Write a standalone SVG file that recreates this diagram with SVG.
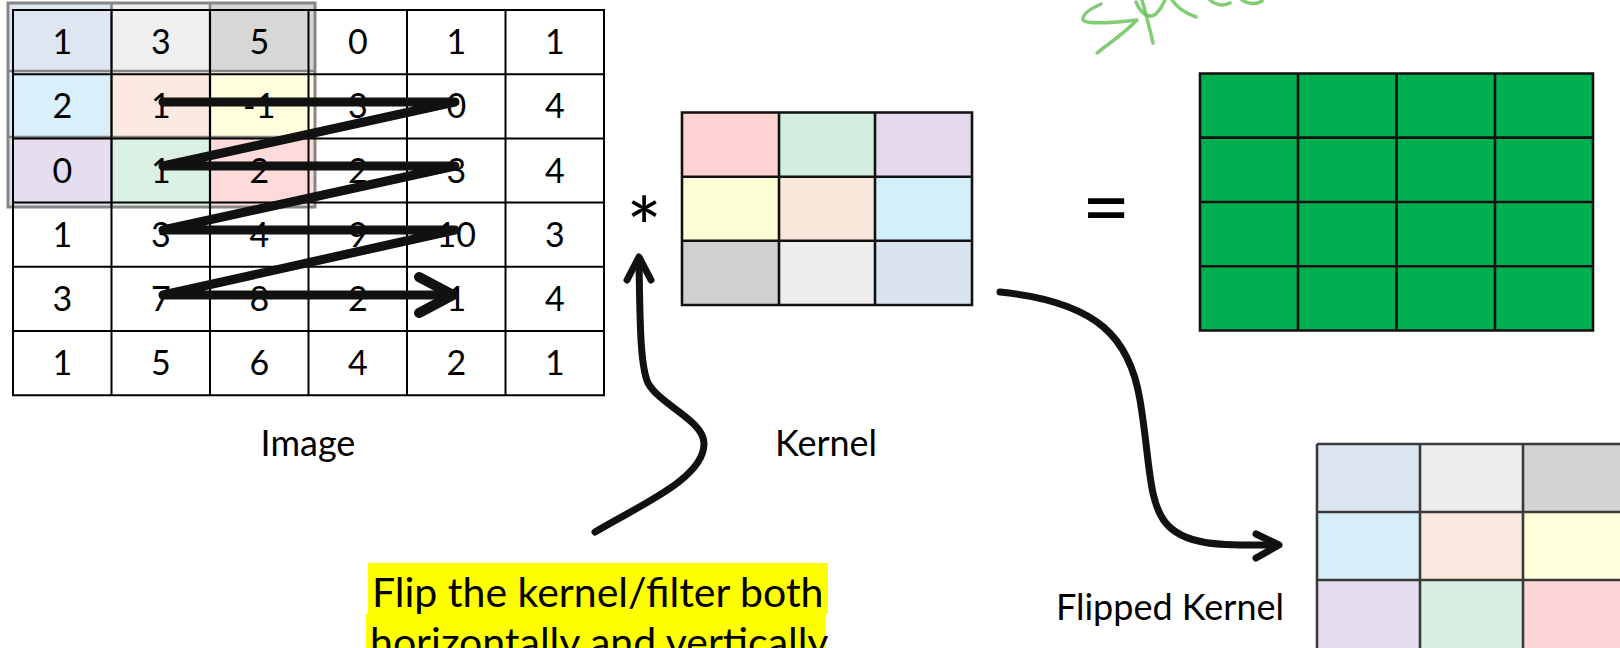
<svg xmlns="http://www.w3.org/2000/svg" width="1620" height="648" viewBox="0 0 1620 648">
  <style>
    .t { font-family: Lato, "Open Sans", "Liberation Sans", sans-serif; fill: #000; }
    .num { font-size: 34px; text-anchor: middle; }
    .lbl { font-size: 36px; text-anchor: middle; }
    .grid { fill: none; stroke: #000; stroke-width: 2; }
    .kgrid { fill: none; stroke: #111; stroke-width: 2.6; }
    .ink { fill: none; stroke: #111; stroke-linecap: round; stroke-linejoin: round; }
    .scrib { fill: none; stroke: #6cc35c; stroke-width: 3.5; stroke-linecap: round; stroke-linejoin: round; opacity: 0.85; }
  </style>

  <rect width="1620" height="648" fill="#fff"/>

  <!-- handwritten green note, cut by the top edge -->
  <g id="note">
    <path class="scrib" d="M1101 4 C1092 8 1082 14 1083 20 C1086 25 1120 22 1137 20 C1125 33 1108 44 1097 53"/>
    <path class="scrib" d="M1142 0 C1146 14 1150 30 1153 43"/>
    <path class="scrib" d="M1136 2 C1140 12 1148 20 1156 14 C1162 8 1164 2 1165 0"/>
    <path class="scrib" d="M1172 0 C1176 6 1182 12 1196 17"/>
    <path class="scrib" d="M1210 0 C1214 4 1222 7 1230 3"/>
    <path class="scrib" d="M1242 0 C1248 4 1256 5 1262 1"/>
  </g>

  <!-- 6x6 input image with the 3x3 window in the corner -->
  <g id="image">
    <rect x="13" y="10" width="591" height="385.2" fill="#fff"/>
    <g id="window" opacity="0.9">
      <rect x="8" y="3" width="103.5" height="68" fill="#dbe5f0"/>
      <rect x="111.5" y="3" width="98.5" height="68" fill="#eeeeee"/>
      <rect x="210" y="3" width="105" height="68" fill="#d3d3d3"/>
      <rect x="8" y="71" width="103.5" height="66" fill="#d5eefa"/>
      <rect x="111.5" y="71" width="98.5" height="66" fill="#fce8de"/>
      <rect x="210" y="71" width="105" height="66" fill="#ffffdb"/>
      <rect x="8" y="137" width="103.5" height="70" fill="#e4dbee"/>
      <rect x="111.5" y="137" width="98.5" height="70" fill="#d6efe1"/>
      <rect x="210" y="137" width="105" height="70" fill="#ffd6d7"/>
      <path d="M8 71 H315 M8 137 H315 M111.5 3 V207 M210 3 V207" fill="none" stroke="#7a7a7a" stroke-width="2.5"/>
      <rect x="8" y="3" width="307" height="204" fill="none" stroke="#7a7a7a" stroke-width="3"/>
    </g>
    <path class="grid" d="M13 10 H604 V395.2 H13 Z M111.5 10 V395.2 M210 10 V395.2 M308.5 10 V395.2 M407 10 V395.2 M505.5 10 V395.2 M13 74.2 H604 M13 138.4 H604 M13 202.6 H604 M13 266.8 H604 M13 331 H604"/>
    <g class="t num">
      <text x="62.3" y="54.2">1</text><text x="160.8" y="54.2">3</text><text x="259.3" y="54.2">5</text><text x="357.8" y="54.2">0</text><text x="456.3" y="54.2">1</text><text x="554.8" y="54.2">1</text>
      <text x="62.3" y="118.4">2</text><text x="160.8" y="118.4">1</text><text x="259.3" y="118.4">-1</text><text x="357.8" y="118.4">3</text><text x="456.3" y="118.4">0</text><text x="554.8" y="118.4">4</text>
      <text x="62.3" y="182.6">0</text><text x="160.8" y="182.6">1</text><text x="259.3" y="182.6">2</text><text x="357.8" y="182.6">2</text><text x="456.3" y="182.6">3</text><text x="554.8" y="182.6">4</text>
      <text x="62.3" y="246.8">1</text><text x="160.8" y="246.8">3</text><text x="259.3" y="246.8">4</text><text x="357.8" y="246.8">9</text><text x="456.3" y="246.8">10</text><text x="554.8" y="246.8">3</text>
      <text x="62.3" y="311">3</text><text x="160.8" y="311">7</text><text x="259.3" y="311">8</text><text x="357.8" y="311">2</text><text x="456.3" y="311">1</text><text x="554.8" y="311">4</text>
      <text x="62.3" y="375.2">1</text><text x="160.8" y="375.2">5</text><text x="259.3" y="375.2">6</text><text x="357.8" y="375.2">4</text><text x="456.3" y="375.2">2</text><text x="554.8" y="375.2">1</text>
    </g>
    <text class="t lbl" x="308" y="456">Image</text>
  </g>

  <!-- convolution operator -->
  <g id="op-star">
    <text class="t" x="644" y="258" font-size="84" text-anchor="middle">*</text>
  </g>

  <!-- 3x3 kernel -->
  <g id="kernel">
    <rect x="682" y="112.5" width="97" height="64.2" fill="#ffd3d3"/>
    <rect x="779" y="112.5" width="96" height="64.2" fill="#d3eee0"/>
    <rect x="875" y="112.5" width="97" height="64.2" fill="#e5daed"/>
    <rect x="682" y="176.7" width="97" height="64.1" fill="#ffffd5"/>
    <rect x="779" y="176.7" width="96" height="64.1" fill="#f9e6da"/>
    <rect x="875" y="176.7" width="97" height="64.1" fill="#d3effa"/>
    <rect x="682" y="240.8" width="97" height="64.2" fill="#d0d0d0"/>
    <rect x="779" y="240.8" width="96" height="64.2" fill="#eeeeee"/>
    <rect x="875" y="240.8" width="97" height="64.2" fill="#dae4ef"/>
    <path class="kgrid" d="M682 112.5 H972 V305 H682 Z M779 112.5 V305 M875 112.5 V305 M682 176.7 H972 M682 240.8 H972"/>
    <text class="t lbl" x="826" y="456">Kernel</text>
  </g>

  <!-- equals sign -->
  <g id="op-eq">
    <text class="t" x="1106" y="236" font-size="84" text-anchor="middle">=</text>
  </g>

  <!-- 4x4 output feature map -->
  <g id="output">
    <rect x="1200" y="73.5" width="393" height="257" fill="#00b050"/>
    <path class="kgrid" d="M1200 73.5 H1593 V330.5 H1200 Z M1298 73.5 V330.5 M1396.5 73.5 V330.5 M1495 73.5 V330.5 M1200 137.6 H1593 M1200 202 H1593 M1200 266.2 H1593"/>
  </g>

  <!-- kernel rotated by 180 degrees -->
  <g id="flipped-kernel">
    <rect x="1317" y="444" width="103" height="68" fill="#dce6f0"/>
    <rect x="1420" y="444" width="103" height="68" fill="#eeeeee"/>
    <rect x="1523" y="444" width="103" height="68" fill="#d4d4d4"/>
    <rect x="1317" y="512" width="103" height="68" fill="#d6eefa"/>
    <rect x="1420" y="512" width="103" height="68" fill="#fce8de"/>
    <rect x="1523" y="512" width="103" height="68" fill="#ffffdc"/>
    <rect x="1317" y="580" width="103" height="68" fill="#e5dcee"/>
    <rect x="1420" y="580" width="103" height="68" fill="#d8f0e2"/>
    <rect x="1523" y="580" width="103" height="68" fill="#ffd6d8"/>
    <path d="M1317 444 H1626 M1317 512 H1626 M1317 580 H1626 M1317 444 V648 M1420 444 V648 M1523 444 V648" fill="none" stroke="#3a3a3a" stroke-width="2.6"/>
    <text class="t" x="1170" y="620" font-size="36" text-anchor="middle">Flipped Kernel</text>
  </g>

  <!-- highlighted note -->
  <g id="note-flip">
    <rect x="368" y="563" width="460" height="51" fill="#ffff00"/>
    <rect x="366" y="614" width="460" height="34" fill="#ffff00"/>
    <text class="t" x="372" y="607" font-size="41">Flip the kernel/filter both</text>
    <text class="t" x="370" y="657" font-size="41">horizontally and vertically</text>
  </g>

  <!-- connectors -->
  <g id="connectors">
    <polyline class="ink" points="163,102 455,102 163,166 455,166 163,230 455,230 163,295 450,295" stroke-width="9" stroke-linejoin="bevel" stroke-linecap="butt"/>
    <polyline class="ink" points="419,277 453,295 419,313" stroke-width="10"/>
    <path class="ink" stroke-width="7" d="M595 532 C640 505 705 478 704 443 C703 420 660 405 648 383 C640 365 640 320 639 262"/>
    <polyline class="ink" stroke-width="7" points="627,280 639,257 651,280"/>
    <path class="ink" stroke-width="7" d="M1000 292 C1100 302 1130 340 1140 400 C1150 460 1148 500 1165 522 C1185 548 1230 545 1275 545"/>
    <polyline class="ink" stroke-width="7" points="1256,534 1279,545 1256,558"/>
  </g>
</svg>
